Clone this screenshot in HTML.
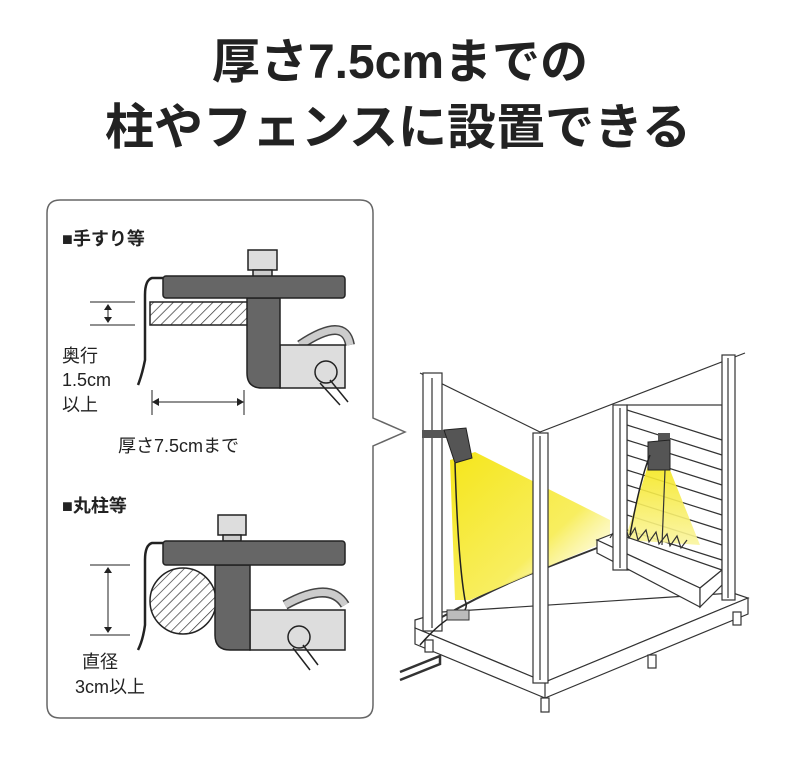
<!DOCTYPE html>
<html><head><meta charset="utf-8"><style>
body{margin:0;background:#fff}
svg{display:block}
text{font-family:"Liberation Sans","Noto Sans CJK JP",sans-serif}
</style></head><body>
<svg width="800" height="757" viewBox="0 0 800 757" xmlns="http://www.w3.org/2000/svg">
<defs>
<pattern id="h" patternUnits="userSpaceOnUse" width="7" height="7" patternTransform="rotate(45)">
<rect width="7" height="7" fill="#fff"/><line x1="0" y1="0" x2="0" y2="7" stroke="#333" stroke-width="1.4"/></pattern>
<linearGradient id="y1" x1="0" y1="0" x2="1" y2="1"><stop offset="0" stop-color="#f5e61a"/><stop offset="0.6" stop-color="#f8ee60"/><stop offset="1" stop-color="#fff" stop-opacity="0.2"/></linearGradient>
<linearGradient id="y2" x1="0" y1="0" x2="0" y2="1"><stop offset="0" stop-color="#f5e61a"/><stop offset="1" stop-color="#faf5a0"/></linearGradient>
</defs>
<text x="400" y="78" text-anchor="middle" font-size="48" font-weight="bold" fill="#222">厚さ7.5cmまでの</text>
<text x="398" y="144" text-anchor="middle" font-size="49" font-weight="bold" fill="#222">柱やフェンスに設置できる</text>

<path d="M60 200 H360 Q373 200 373 213 V418 L405 432 L373 446 V705 Q373 718 360 718 H60 Q47 718 47 705 V213 Q47 200 60 200 Z" fill="#fff" stroke="#666" stroke-width="1.5"/>

<g font-size="18" fill="#222">
<text x="62" y="245" font-weight="bold">■手すり等</text>
<text x="62" y="362">奥行</text><text x="62" y="386">1.5cm</text><text x="62" y="411">以上</text>
<text x="118" y="452">厚さ7.5cmまで</text>
<text x="62" y="512" font-weight="bold">■丸柱等</text>
<text x="82" y="668">直径</text><text x="75" y="693">3cm以上</text>
</g>

<g stroke="#222" stroke-width="1.5">
<path d="M300 345 Q345 315 350 345" fill="none" stroke="#444" stroke-width="10"/>
<path d="M300 345 Q345 315 350 345" fill="none" stroke="#ccc" stroke-width="7"/>
<rect x="248" y="250" width="29" height="20" fill="#ddd"/>
<rect x="253" y="270" width="19" height="8" fill="#ccc"/>
<rect x="150" y="302" width="98" height="23" fill="url(#h)"/>
<rect x="280" y="345" width="65" height="43" fill="#ddd"/>
<path d="M247 298 H280 V388 H262 Q247 388 247 373 Z" fill="#666"/>
<rect x="163" y="276" width="182" height="22" rx="3" fill="#666"/>
<circle cx="326" cy="372" r="11" fill="#ddd"/>
<path d="M320 383 L340 405 M330 380 L348 402" fill="none"/>
<path d="M163 278 H152 Q145 280 145 295 L145 360 Q142 375 138 385" fill="none" stroke-width="2.5"/>
<path d="M90 302 H135 M90 325 H135 M108 306 V321 M152 390 V415 M244 390 V415 M154 402 H242" fill="none" stroke-width="1"/>
</g>
<path d="M108 304 l-4 6 h8z M108 323 l-4 -6 h8z M152 402 l7 -4 v8z M244 402 l-7 -4 v8z" fill="#222"/>

<g stroke="#222" stroke-width="1.5">
<path d="M285 605 Q330 580 345 605" fill="none" stroke="#444" stroke-width="10"/>
<path d="M285 605 Q330 580 345 605" fill="none" stroke="#ccc" stroke-width="7"/>
<rect x="218" y="515" width="28" height="20" fill="#ddd"/>
<rect x="223" y="535" width="18" height="6" fill="#ccc"/>
<circle cx="183" cy="601" r="33" fill="url(#h)"/>
<rect x="250" y="610" width="95" height="40" fill="#ddd"/>
<path d="M215 565 H250 V650 H230 Q215 650 215 635 Z" fill="#666"/>
<rect x="163" y="541" width="182" height="24" rx="3" fill="#666"/>
<circle cx="299" cy="637" r="11" fill="#ddd"/>
<path d="M293 648 L310 670 M303 645 L318 665" fill="none"/>
<path d="M163 543 H152 Q145 545 145 560 L145 625 Q143 640 138 650" fill="none" stroke-width="2.5"/>
<path d="M90 565 H130 M90 635 H130 M108 569 V631" fill="none" stroke-width="1"/>
</g>
<path d="M108 567 l-4 6 h8z M108 633 l-4 -6 h8z" fill="#222"/>

<g stroke="#333" stroke-width="1.2" fill="#fff">
<path d="M420 373 L540 432 L745 353" fill="none"/>
<path d="M415 620 L442 612 L733 593 L748 598 L545 682 L415 628 Z"/>
<path d="M415 628 L545 682 L748 598 L748 614 L545 698 L415 644 Z"/>
<path d="M545 682 V698" fill="none"/>
<rect x="541" y="698" width="8" height="14"/><rect x="648" y="655" width="8" height="13"/><rect x="733" y="612" width="8" height="13"/><rect x="425" y="640" width="8" height="12"/>
<path d="M400 672 L440 656 L440 664 L400 680" fill="none" stroke-width="2.5"/>
<path d="M442 617 Q490 590 533 573 M548 567 L597 548" fill="none" stroke-width="2"/>
<rect x="627" y="405" width="95" height="165" fill="#fff"/>
<g fill="none"><path d="M627 410 L722 440 M627 425 L722 455 M627 440 L722 470 M627 455 L722 485 M627 470 L722 500 M627 485 L722 515 M627 500 L722 530 M627 515 L722 545 M627 530 L722 560 M627 545 L722 570"/></g>
</g>
<polygon points="450,460 475,452 610,520 610,540 470,600 455,600" fill="url(#y1)"/>
<polygon points="648,465 668,465 700,545 625,540" fill="url(#y2)" opacity="0.9"/>
<g stroke="#333" stroke-width="1.2" fill="#fff">
<path d="M597 540 L615 533 L722 570 L700 588 Z"/>
<path d="M597 540 L700 588 V607 L597 553 Z"/>
<path d="M700 588 L722 570 V585 L700 607 Z"/>
<path d="M610 538 l6 -10 l4 10 l5 -12 l4 12 l6 -10 l3 12 l8 -10 l3 12 l7 -10 l3 12 l8 -10 l3 12 l7 -10 l4 12 l6 -8" fill="none"/>
<rect x="423" y="373" width="19" height="258"/><line x1="432" y1="378" x2="432" y2="628"/>
<rect x="533" y="433" width="15" height="250"/><line x1="540" y1="436" x2="540" y2="680"/>
<rect x="722" y="355" width="13" height="245"/><line x1="728" y1="358" x2="728" y2="598"/>
<rect x="613" y="405" width="14" height="165"/><line x1="620" y1="408" x2="620" y2="568"/>
</g>
<path d="M422 430 l30 0 l0 8 l-30 0z" fill="#555"/>
<path d="M444 430 L466 428 L472 458 L455 463 Z" fill="#555" stroke="#222"/>
<path d="M658 433 h12 v8 h-12z" fill="#555"/>
<path d="M648 442 L670 440 L670 470 L648 470 Z" fill="#555" stroke="#222"/>
<path d="M455 463 Q458 560 465 600 Q470 612 455 615 Q440 622 420 645" fill="none" stroke="#222" stroke-width="1.5"/>
<path d="M650 455 Q640 480 630 535" fill="none" stroke="#222" stroke-width="1.5"/>
<line x1="665" y1="470" x2="662" y2="545" stroke="#333" stroke-width="1.2"/>
<rect x="447" y="610" width="22" height="10" fill="#bbb" stroke="#333"/>
</svg>
</body></html>
